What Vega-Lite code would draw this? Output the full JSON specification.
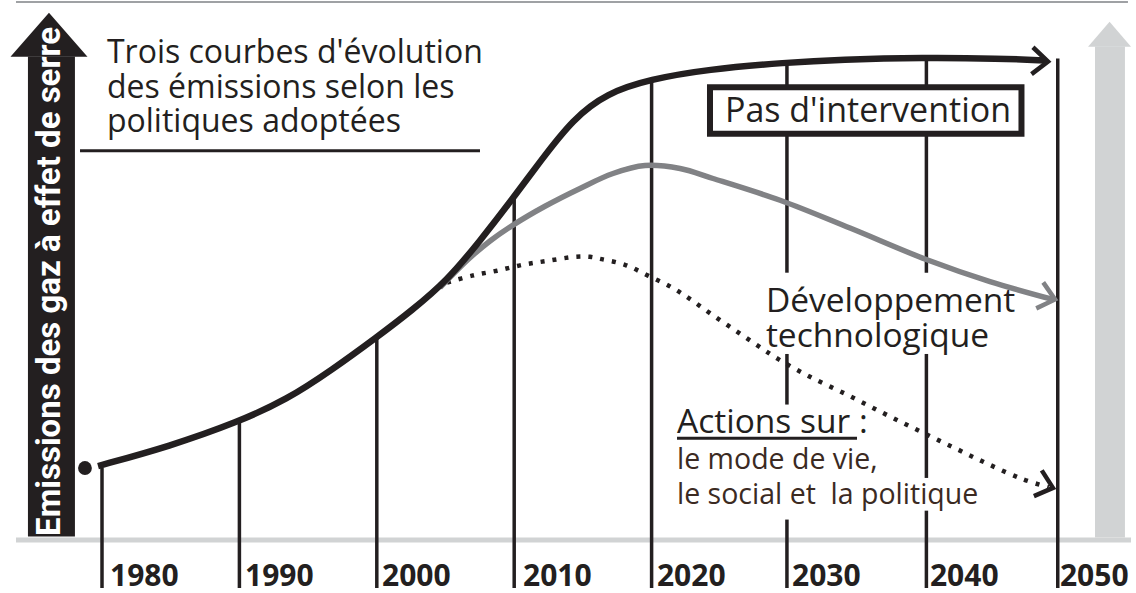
{
  "$schema": "https://vega.github.io/schema/vega-lite/v6.json",
  "width": 1136,
  "height": 593,
  "padding": 0,
  "autosize": {"type": "fit", "contains": "padding"},
  "background": "white",
  "config": {"view": {"stroke": null}},
  "datasets": {
    "pas": [
      {"year": 1979.71, "v": 13.68}, {"year": 1984.95, "v": 17.38}, {"year": 1989.83, "v": 21.81},
      {"year": 1993.46, "v": 26.06}, {"year": 1996.74, "v": 31.61}, {"year": 2000.01, "v": 37.71},
      {"year": 2002.56, "v": 42.7}, {"year": 2005.11, "v": 48.24}, {"year": 2007.51, "v": 55.64},
      {"year": 2009.91, "v": 63.59}, {"year": 2011.88, "v": 70.43}, {"year": 2014.28, "v": 78.4},
      {"year": 2016.75, "v": 83.2}, {"year": 2019.88, "v": 85.77}, {"year": 2024.03, "v": 87.62},
      {"year": 2029.85, "v": 88.91}, {"year": 2033.71, "v": 89.46}, {"year": 2039.75, "v": 89.83},
      {"year": 2045.36, "v": 89.65}, {"year": 2048.71, "v": 89.28}
    ],
    "tech": [
      {"year": 2004.6, "v": 46.95}, {"year": 2006.78, "v": 52.5}, {"year": 2008.24, "v": 55.64},
      {"year": 2009.91, "v": 58.6}, {"year": 2012.24, "v": 62.11}, {"year": 2014.79, "v": 65.43},
      {"year": 2017.19, "v": 68.21}, {"year": 2019.52, "v": 69.69}, {"year": 2022.07, "v": 69.13},
      {"year": 2024.47, "v": 67.28}, {"year": 2029.35, "v": 63.22}, {"year": 2034.44, "v": 58.04},
      {"year": 2040.04, "v": 52.13}, {"year": 2044.63, "v": 48.06}, {"year": 2049.21, "v": 44.73}
    ],
    "actions": [
      {"year": 2005.11, "v": 47.87}, {"year": 2006.93, "v": 49.17}, {"year": 2008.75, "v": 50.09},
      {"year": 2010.64, "v": 51.2}, {"year": 2012.46, "v": 51.94}, {"year": 2014.43, "v": 52.68},
      {"year": 2015.52, "v": 52.68}, {"year": 2016.24, "v": 52.31}, {"year": 2018.06, "v": 51.2},
      {"year": 2019.74, "v": 49.17}, {"year": 2021.49, "v": 46.95}, {"year": 2022.94, "v": 44.55},
      {"year": 2024.47, "v": 41.77}, {"year": 2026.07, "v": 39.0}, {"year": 2027.67, "v": 36.23},
      {"year": 2029.2, "v": 33.64}, {"year": 2031.53, "v": 30.31}, {"year": 2034.22, "v": 26.99},
      {"year": 2036.77, "v": 23.66}, {"year": 2039.24, "v": 20.52}, {"year": 2041.79, "v": 17.38},
      {"year": 2044.34, "v": 14.23}, {"year": 2046.96, "v": 11.28}, {"year": 2048.9, "v": 9.7}
    ],
    "grid": [
      {"year": 1980, "v": 13.31, "v2": -9.06},
      {"year": 1990, "v": 21.8, "v2": -9.06},
      {"year": 2000, "v": 37.71, "v2": -9.06},
      {"year": 2010, "v": 63.59, "v2": -9.06},
      {"year": 2020, "v": 85.4, "v2": -9.06},
      {"year": 2029.85, "v": 88.91, "v2": 49.72},
      {"year": 2029.85, "v": 34.57, "v2": 25.14},
      {"year": 2029.85, "v": 3.7, "v2": -9.06},
      {"year": 2040, "v": 89.83, "v2": 49.72},
      {"year": 2040, "v": 34.57, "v2": 11.46},
      {"year": 2040, "v": 5.36, "v2": -9.06},
      {"year": 2049.56, "v": 89.65, "v2": -9.06}
    ],
    "years": [
      {"label": "1980", "year": 1980.58}, {"label": "1990", "year": 1990.41},
      {"label": "2000", "year": 2000.38}, {"label": "2010", "year": 2010.64},
      {"label": "2020", "year": 2020.39}, {"label": "2030", "year": 2030.22},
      {"label": "2040", "year": 2040.26}, {"label": "2050", "year": 2049.72}
    ]
  },
  "layer": [
    {
      "data": {"values": [{"year": 1973.74, "year2": 2054.67, "v": 100.18}]},
      "mark": {"type": "rule", "color": "#9fa1a4", "strokeWidth": 2},
      "encoding": {
        "x": {"field": "year", "type": "quantitative", "scale": {"domain": [1972.576, 2055.255], "nice": false, "zero": false}, "axis": null},
        "x2": {"field": "year2"},
        "y": {"field": "v", "type": "quantitative", "scale": {"domain": [-9.057, 100.555], "nice": false, "zero": false}, "axis": null}
      }
    },
    {
      "data": {"values": [{"year": 1973.74, "year2": 2054.89, "v": -0.09}]},
      "mark": {"type": "rule", "color": "#d1d3d4", "strokeWidth": 5},
      "encoding": {
        "x": {"field": "year", "type": "quantitative", "scale": {"domain": [1972.576, 2055.255], "nice": false, "zero": false}, "axis": null},
        "x2": {"field": "year2"},
        "y": {"field": "v", "type": "quantitative", "scale": {"domain": [-9.057, 100.555], "nice": false, "zero": false}, "axis": null}
      }
    },
    {
      "data": {"name": "grid"},
      "mark": {"type": "rule", "color": "#231f20", "strokeWidth": 3.5},
      "encoding": {
        "x": {"field": "year", "type": "quantitative", "scale": {"domain": [1972.576, 2055.255], "nice": false, "zero": false}, "axis": null},
        "y": {"field": "v", "type": "quantitative", "scale": {"domain": [-9.057, 100.555], "nice": false, "zero": false}, "axis": null},
        "y2": {"field": "v2"}
      }
    },
    {
      "data": {"values": [{"year": 2024.25, "year2": 2046.92, "v": 75.6, "v2": 84.29}]},
      "mark": {"type": "rect", "fill": "white", "stroke": "#231f20", "strokeWidth": 6},
      "encoding": {
        "x": {"field": "year", "type": "quantitative", "scale": {"domain": [1972.576, 2055.255], "nice": false, "zero": false}, "axis": null},
        "x2": {"field": "year2"},
        "y": {"field": "v", "type": "quantitative", "scale": {"domain": [-9.057, 100.555], "nice": false, "zero": false}, "axis": null},
        "y2": {"field": "v2"}
      }
    },
    {
      "data": {"name": "actions"},
      "mark": {"type": "line", "color": "#231f20", "strokeWidth": 4.5, "strokeDash": [4, 8], "strokeCap": "butt", "interpolate": "catmull-rom"},
      "encoding": {
        "x": {"field": "year", "type": "quantitative", "scale": {"domain": [1972.576, 2055.255], "nice": false, "zero": false}, "axis": null},
        "y": {"field": "v", "type": "quantitative", "scale": {"domain": [-9.057, 100.555], "nice": false, "zero": false}, "axis": null}
      }
    },
    {
      "data": {"name": "tech"},
      "mark": {"type": "line", "color": "#818285", "strokeWidth": 5.5, "interpolate": "catmull-rom"},
      "encoding": {
        "x": {"field": "year", "type": "quantitative", "scale": {"domain": [1972.576, 2055.255], "nice": false, "zero": false}, "axis": null},
        "y": {"field": "v", "type": "quantitative", "scale": {"domain": [-9.057, 100.555], "nice": false, "zero": false}, "axis": null}
      }
    },
    {
      "data": {"name": "pas"},
      "mark": {"type": "line", "color": "#231f20", "strokeWidth": 6.5, "interpolate": "basis"},
      "encoding": {
        "x": {"field": "year", "type": "quantitative", "scale": {"domain": [1972.576, 2055.255], "nice": false, "zero": false}, "axis": null},
        "y": {"field": "v", "type": "quantitative", "scale": {"domain": [-9.057, 100.555], "nice": false, "zero": false}, "axis": null}
      }
    },
    {
      "data": {"values": [{"year": 2048.85, "v": 89.09, "ang": 3}, {"year": 2049.21, "v": 9.61, "ang": 17}]},
      "mark": {"type": "point", "shape": "M-1,-0.85L0,0L-1,0.85", "filled": false, "stroke": "#231f20", "strokeWidth": 4.5, "size": 1000, "opacity": 1},
      "encoding": {
        "x": {"field": "year", "type": "quantitative", "scale": {"domain": [1972.576, 2055.255], "nice": false, "zero": false}, "axis": null},
        "y": {"field": "v", "type": "quantitative", "scale": {"domain": [-9.057, 100.555], "nice": false, "zero": false}, "axis": null},
        "angle": {"field": "ang", "type": "quantitative", "scale": null}
      }
    },
    {
      "data": {"values": [{"year": 2049.36, "v": 44.73, "ang": 15}]},
      "mark": {"type": "point", "shape": "M-1,-0.85L0,0L-1,0.85", "filled": false, "stroke": "#818285", "strokeWidth": 4.5, "size": 1000, "opacity": 1},
      "encoding": {
        "x": {"field": "year", "type": "quantitative", "scale": {"domain": [1972.576, 2055.255], "nice": false, "zero": false}, "axis": null},
        "y": {"field": "v", "type": "quantitative", "scale": {"domain": [-9.057, 100.555], "nice": false, "zero": false}, "axis": null},
        "angle": {"field": "ang", "type": "quantitative", "scale": null}
      }
    },
    {
      "data": {"values": [{"year": 1978.76, "v": 13.31}]},
      "mark": {"type": "point", "shape": "circle", "filled": true, "color": "#231f20", "size": 190, "opacity": 1},
      "encoding": {
        "x": {"field": "year", "type": "quantitative", "scale": {"domain": [1972.576, 2055.255], "nice": false, "zero": false}, "axis": null},
        "y": {"field": "v", "type": "quantitative", "scale": {"domain": [-9.057, 100.555], "nice": false, "zero": false}, "axis": null}
      }
    },
    {
      "data": {"values": [{"year": 1974.61, "year2": 1978.03, "v": 0.55, "v2": 90.02}]},
      "mark": {"type": "rect", "fill": "#231f20"},
      "encoding": {
        "x": {"field": "year", "type": "quantitative", "scale": {"domain": [1972.576, 2055.255], "nice": false, "zero": false}, "axis": null},
        "x2": {"field": "year2"},
        "y": {"field": "v", "type": "quantitative", "scale": {"domain": [-9.057, 100.555], "nice": false, "zero": false}, "axis": null},
        "y2": {"field": "v2"}
      }
    },
    {
      "data": {"values": [{"year": 1976.14, "v": 94.09}]},
      "mark": {"type": "point", "shape": "M-1,0.571L0,-0.571L1,0.571Z", "filled": true, "color": "#231f20", "size": 5929, "opacity": 1},
      "encoding": {
        "x": {"field": "year", "type": "quantitative", "scale": {"domain": [1972.576, 2055.255], "nice": false, "zero": false}, "axis": null},
        "y": {"field": "v", "type": "quantitative", "scale": {"domain": [-9.057, 100.555], "nice": false, "zero": false}, "axis": null}
      }
    },
    {
      "data": {"values": [{"year": 2052.27, "year2": 2054.45, "v": 0.37, "v2": 91.87}]},
      "mark": {"type": "rect", "fill": "#d1d3d4"},
      "encoding": {
        "x": {"field": "year", "type": "quantitative", "scale": {"domain": [1972.576, 2055.255], "nice": false, "zero": false}, "axis": null},
        "x2": {"field": "year2"},
        "y": {"field": "v", "type": "quantitative", "scale": {"domain": [-9.057, 100.555], "nice": false, "zero": false}, "axis": null},
        "y2": {"field": "v2"}
      }
    },
    {
      "data": {"values": [{"year": 2053.33, "v": 94.18}]},
      "mark": {"type": "point", "shape": "M-1,0.581L0,-0.581L1,0.581Z", "filled": true, "color": "#d1d3d4", "size": 1849, "opacity": 1},
      "encoding": {
        "x": {"field": "year", "type": "quantitative", "scale": {"domain": [1972.576, 2055.255], "nice": false, "zero": false}, "axis": null},
        "y": {"field": "v", "type": "quantitative", "scale": {"domain": [-9.057, 100.555], "nice": false, "zero": false}, "axis": null}
      }
    },
    {
      "data": {"values": [{"year": 1976.2, "v": 48.1, "t": "Emissions des gaz à effet de serre"}]},
      "mark": {"type": "text", "angle": 270, "align": "center", "baseline": "middle", "font": "Roboto", "fontWeight": "bold", "fontSize": 33, "color": "white"},
      "encoding": {
        "x": {"field": "year", "type": "quantitative", "scale": {"domain": [1972.576, 2055.255], "nice": false, "zero": false}, "axis": null},
        "y": {"field": "v", "type": "quantitative", "scale": {"domain": [-9.057, 100.555], "nice": false, "zero": false}, "axis": null},
        "text": {"field": "t"}
      }
    },
    {
      "data": {"values": [
        {"year": 1978.4, "year2": 2007.51, "v": 72.46},
        {"year": 2021.85, "year2": 2034.95, "v": 18.85}
      ]},
      "mark": {"type": "rule", "color": "#231f20", "strokeWidth": 3},
      "encoding": {
        "x": {"field": "year", "type": "quantitative", "scale": {"domain": [1972.576, 2055.255], "nice": false, "zero": false}, "axis": null},
        "x2": {"field": "year2"},
        "y": {"field": "v", "type": "quantitative", "scale": {"domain": [-9.057, 100.555], "nice": false, "zero": false}, "axis": null}
      }
    },
    {
      "data": {"values": [
        {"year": 1980.36, "v": 88.72, "t": "Trois courbes d'évolution"},
        {"year": 1980.36, "v": 82.26, "t": "des émissions selon les"},
        {"year": 1980.36, "v": 75.97, "t": "politiques adoptées"}
      ]},
      "mark": {"type": "text", "align": "left", "baseline": "alphabetic", "font": "Open Sans", "fontSize": 32, "color": "#231f20"},
      "encoding": {
        "x": {"field": "year", "type": "quantitative", "scale": {"domain": [1972.576, 2055.255], "nice": false, "zero": false}, "axis": null},
        "y": {"field": "v", "type": "quantitative", "scale": {"domain": [-9.057, 100.555], "nice": false, "zero": false}, "axis": null},
        "text": {"field": "t"}
      }
    },
    {
      "data": {"values": [
        {"year": 2028.32, "v": 42.33, "t": "Développement"},
        {"year": 2028.32, "v": 35.86, "t": "technologique"},
        {"year": 2021.85, "v": 19.78, "t": "Actions sur :"}
      ]},
      "mark": {"type": "text", "align": "left", "baseline": "alphabetic", "font": "Open Sans", "fontSize": 33.5, "color": "#231f20"},
      "encoding": {
        "x": {"field": "year", "type": "quantitative", "scale": {"domain": [1972.576, 2055.255], "nice": false, "zero": false}, "axis": null},
        "y": {"field": "v", "type": "quantitative", "scale": {"domain": [-9.057, 100.555], "nice": false, "zero": false}, "axis": null},
        "text": {"field": "t"}
      }
    },
    {
      "data": {"values": [
        {"year": 2021.85, "v": 13.12, "t": "le mode de vie,"},
        {"year": 2021.85, "v": 6.65, "t": "le social et \u00a0la politique"}
      ]},
      "mark": {"type": "text", "align": "left", "baseline": "alphabetic", "font": "Open Sans", "fontSize": 28.5, "color": "#3b2a22"},
      "encoding": {
        "x": {"field": "year", "type": "quantitative", "scale": {"domain": [1972.576, 2055.255], "nice": false, "zero": false}, "axis": null},
        "y": {"field": "v", "type": "quantitative", "scale": {"domain": [-9.057, 100.555], "nice": false, "zero": false}, "axis": null},
        "text": {"field": "t"}
      }
    },
    {
      "data": {"values": [{"year": 2035.75, "v": 77.82, "t": "Pas d'intervention"}]},
      "mark": {"type": "text", "align": "center", "baseline": "alphabetic", "font": "Open Sans", "fontSize": 34, "color": "#231f20"},
      "encoding": {
        "x": {"field": "year", "type": "quantitative", "scale": {"domain": [1972.576, 2055.255], "nice": false, "zero": false}, "axis": null},
        "y": {"field": "v", "type": "quantitative", "scale": {"domain": [-9.057, 100.555], "nice": false, "zero": false}, "axis": null},
        "text": {"field": "t"}
      }
    },
    {
      "data": {"name": "years"},
      "transform": [{"calculate": "-8.7", "as": "v"}],
      "mark": {"type": "text", "align": "left", "baseline": "alphabetic", "font": "Open Sans", "fontWeight": "bold", "fontSize": 30, "color": "#231f20"},
      "encoding": {
        "x": {"field": "year", "type": "quantitative", "scale": {"domain": [1972.576, 2055.255], "nice": false, "zero": false}, "axis": null},
        "y": {"field": "v", "type": "quantitative", "scale": {"domain": [-9.057, 100.555], "nice": false, "zero": false}, "axis": null},
        "text": {"field": "label"}
      }
    }
  ]
}
